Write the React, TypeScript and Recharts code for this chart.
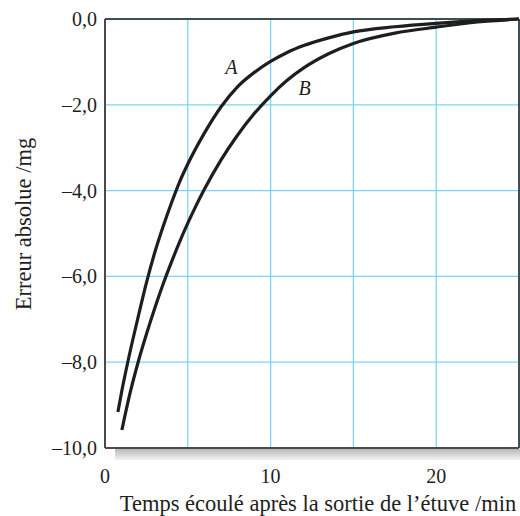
import React from "react";
import {
	CartesianGrid,
	Line,
	LineChart,
	ReferenceDot,
	ReferenceLine,
	XAxis,
	YAxis,
} from "recharts";

// Courbe A et courbe B
const tempsA = [0.78, 1, 1.5, 2, 2.5, 3, 3.5, 4, 4.5, 5, 6, 7, 8, 9, 10, 11, 12, 13.5, 15, 17.5, 20, 22.5, 25];
const erreurA = [-9.16, -8.7, -7.78, -6.95, -6.15, -5.45, -4.85, -4.3, -3.8, -3.38, -2.66, -2.05, -1.58, -1.25, -0.99, -0.78, -0.62, -0.44, -0.3, -0.18, -0.1, -0.04, 0];

const tempsB = [1.02, 1.5, 2, 2.5, 3, 3.5, 4, 4.5, 5, 5.5, 6, 7, 8, 9, 10, 11, 12, 13.5, 15, 17.5, 20, 22.5, 25];
const erreurB = [-9.58, -8.74, -8, -7.35, -6.75, -6.19, -5.68, -5.2, -4.76, -4.35, -3.97, -3.29, -2.71, -2.21, -1.79, -1.43, -1.14, -0.81, -0.57, -0.33, -0.19, -0.07, 0];

const xTicks = [0, 5, 10, 15, 20, 25];
const xLabels = [0, 10, 20];
const yTicks = [0, -2, -4, -6, -8, -10];

const serieA = tempsA.map((t, i) => ({ t, e: erreurA[i] }));
const serieB = tempsB.map((t, i) => ({ t, e: erreurB[i] }));

const FONT = '"Liberation Serif", "DejaVu Serif", serif';
const GRID = "#7dd4f2";
const INK = "#1e1e1e";

const fmtY = (v: number) =>
	(v < 0 ? "\u2013" : "") + Math.abs(v).toFixed(1).replace(".", ",");

function XTick(props: any) {
	const { x, y, payload } = props;
	if (!xLabels.includes(payload.value)) return null;
	return (
		<text x={x} y={y + 27} textAnchor="middle" fontFamily={FONT} fontSize={20} fill={INK}>
			{payload.value}
		</text>
	);
}

function YTick(props: any) {
	const { x, y, payload } = props;
	return (
		<text x={x} y={y + 7} textAnchor="end" fontFamily={FONT} fontSize={20} fill={INK}>
			{fmtY(payload.value)}
		</text>
	);
}

function CurveLabel({ cx, cy, text }: { cx?: number; cy?: number; text: string }) {
	return (
		<text x={cx} y={(cy ?? 0) + 7} textAnchor="middle" fontFamily={FONT} fontSize={20} fontStyle="italic" fill={INK}>
			{text}
		</text>
	);
}

export default function App() {
	return (
		<div style={{ position: "absolute", left: 0, top: 0, width: 520, height: 516, background: "#fff" }}>
			{/* ombre grise sous l'axe des abscisses */}
			<div
				style={{
					position: "absolute",
					left: 115,
					top: 449,
					width: 405,
					height: 11,
					background: "linear-gradient(180deg, #b9b9b9 0%, #f2f2f2 100%)",
				}}
			/>
			<LineChart
				width={520}
				height={516}
				margin={{ top: 19, right: 1, bottom: 38, left: 45 }}
				style={{ position: "absolute", left: 0, top: 0 }}
			>
				<CartesianGrid stroke={GRID} strokeWidth={1.3} />
				<XAxis
					type="number"
					dataKey="t"
					domain={[0, 25]}
					ticks={xTicks}
					tick={<XTick />}
					tickLine={false}
					axisLine={{ stroke: "#4a4a4a", strokeWidth: 2 }}
					height={30}
					interval={0}
				/>
				<YAxis
					type="number"
					dataKey="e"
					domain={[-10, 0]}
					ticks={yTicks}
					tick={<YTick />}
					tickLine={false}
					axisLine={{ stroke: "#4a4a4a", strokeWidth: 2 }}
					width={60}
					interval={0}
				/>
				<ReferenceLine y={0} stroke={INK} strokeWidth={1.5} />
				<ReferenceLine x={25} stroke={INK} strokeWidth={1.5} />
				<Line
					data={serieA}
					dataKey="e"
					type="monotone"
					stroke={INK}
					strokeWidth={3.2}
					dot={false}
					isAnimationActive={false}
				/>
				<Line
					data={serieB}
					dataKey="e"
					type="monotone"
					stroke={INK}
					strokeWidth={3.2}
					dot={false}
					isAnimationActive={false}
				/>
				<ReferenceDot x={7.63} y={-1.11} r={0} shape={(p: any) => <CurveLabel {...p} text="A" />} />
				<ReferenceDot x={12.05} y={-1.6} r={0} shape={(p: any) => <CurveLabel {...p} text="B" />} />
				<text x={318} y={511} textAnchor="middle" fontFamily={FONT} fontSize={22.5} fill={INK}>
					Temps écoulé après la sortie de l’étuve /min
				</text>
				<text
					x={31}
					y={224}
					textAnchor="middle"
					fontFamily={FONT}
					fontSize={22.5}
					fill={INK}
					transform="rotate(-90 31 224)"
				>
					Erreur absolue /mg
				</text>
			</LineChart>
		</div>
	);
}
